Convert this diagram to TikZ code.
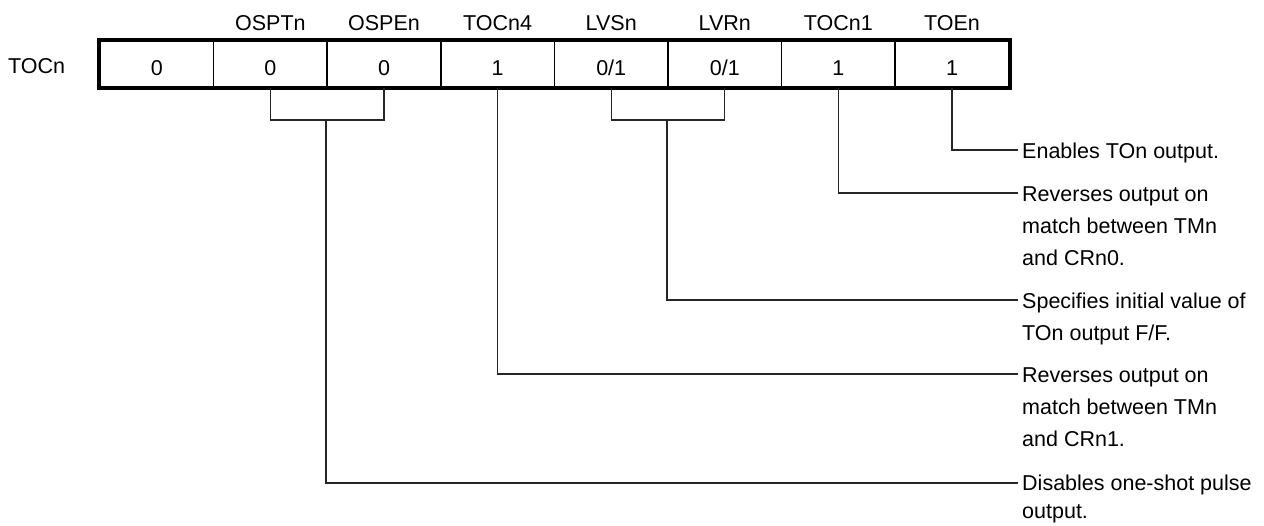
\documentclass[tikz,border=0pt]{standalone}
\usepackage{fontspec}
\setmainfont{Liberation Sans}
\begin{document}
\begin{tikzpicture}[x=1pt,y=-1pt,
  txt/.style={inner sep=0pt, font=\fontsize{21.5}{26}\selectfont},
  cell/.style={txt, draw, line width=1.6pt, minimum width=113.6pt, minimum height=46pt, text height=22pt, text depth=0pt},
  bitlbl/.style={txt, anchor=base},
  desc/.style={txt, anchor=base west},
  conn/.style={line width=1.1pt, black!85}]
\useasboundingbox (0,0) rectangle (1264,525);
% register cells
\foreach \i/\v in {1/0,2/0,3/0,4/1,5/0\slash1,6/0\slash1,7/1,8/1}{
  \node[cell] (c\i) at ({100+113.6*(\i-0.5)},64) {\v};
}
\draw[line width=4pt] (c1.north west) rectangle (c8.south east);
% register name and bit names
\node[bitlbl] (reg) at (36.5,73) {TOCn};
\foreach \i/\n in {2/OSPTn,3/OSPEn,4/TOCn4,5/LVSn,6/LVRn,7/TOCn1,8/TOEn}{
  \node[bitlbl] (n\i) at (c\i.center |- 0,30) {\n};
}
% bracket points and ends
\coordinate (b1) at (326,120);
\coordinate (b2) at (667,120);
\coordinate (e1) at (1018,150);
\coordinate (e2) at (1018,193);
\coordinate (e3) at (1018,300);
\coordinate (e4) at (1018,374);
\coordinate (e5) at (1018,483);
% descriptions
\newcommand{\desctext}[2][32]{\parbox[t]{240pt}{\raggedright\fontsize{21.5}{#1}\selectfont #2}}
\node[desc] (d1) at ([xshift=4pt,yshift=-8pt]e1) {\desctext{Enables TOn output.}};
\node[desc] (d2) at ([xshift=4pt,yshift=-8pt]e2) {\desctext{Reverses output on\\match between TMn\\and CRn0.}};
\node[desc] (d3) at ([xshift=4pt,yshift=-8pt]e3) {\desctext{Specifies initial value of\\TOn output F/F.}};
\node[desc] (d4) at ([xshift=4pt,yshift=-8pt]e4) {\desctext{Reverses output on\\match between TMn\\and CRn1.}};
\node[desc] (d5) at ([xshift=4pt,yshift=-7pt]e5) {\desctext[28]{Disables one-shot pulse\\output.}};
% connectors
\draw[conn] (c8.south) |- (e1);
\draw[conn] (c7.south) |- (e2);
\draw[conn] (c5.south) |- (b2) -| (c6.south);
\draw[conn] (b2) |- (e3);
\draw[conn] (c4.south) |- (e4);
\draw[conn] (c2.south) |- (b1) -| (c3.south);
\draw[conn] (b1) |- (e5);
\end{tikzpicture}
\end{document}
